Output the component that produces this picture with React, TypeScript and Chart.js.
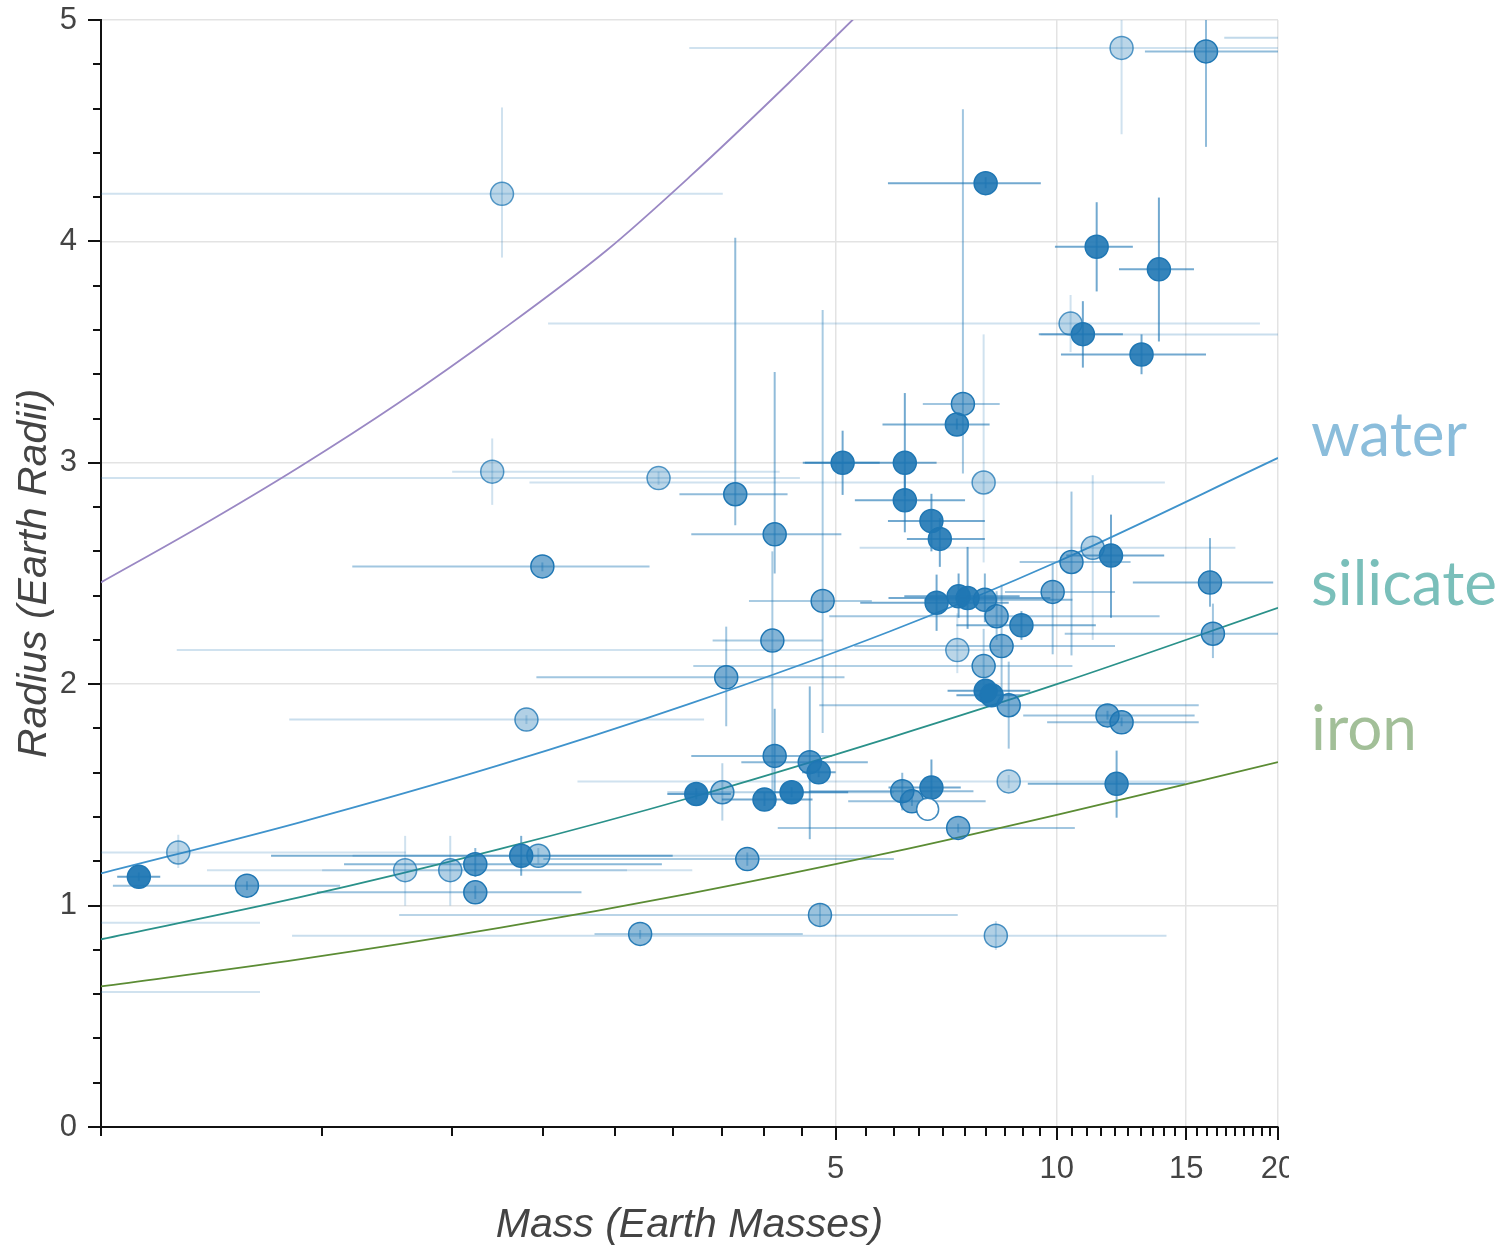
import React, { useEffect, useRef } from "react";
import { Chart, registerables } from "chart.js";

Chart.register(...registerables);

// ---- planets (mass in Earth masses, radius in Earth radii) ----
const planetMass = [
  0.563, 0.637, 0.79, 1.297, 1.494, 1.616, 1.616, 1.866, 1.969, 3.79,
  2.709, 8.26, 4.76, 3.23, 3.505, 4.0, 4.355, 4.13, 4.61, 4.74,
  3.548, 4.1, 4.8, 4.13, 2.87, 1.704, 1.994, 1.897, 1.757, 3.65,
  5.11, 12.25, 15.96, 8.0, 7.45, 7.31, 11.33, 13.77, 10.44, 10.85,
  13.04, 6.21, 6.21, 6.75, 6.93, 7.95, 10.47, 11.19, 11.85, 16.16,
  16.31, 6.86, 7.35, 7.56, 7.98, 8.28, 8.95, 8.41, 9.87, 7.32,
  7.95, 8.0, 8.15, 8.6, 11.72, 12.25, 12.06, 8.6, 6.75, 6.16,
  6.35, 7.34, 0.42, 0.42, 24, 25,
];
const planetRadius = [
  1.13, 1.24, 1.09, 1.16, 1.16, 1.187, 1.06, 1.225, 1.225, 1.21,
  0.872, 0.864, 0.958, 1.504, 1.512, 1.479, 1.512, 1.676, 1.648, 1.602,
  2.031, 2.197, 2.376, 2.677, 2.931, 2.96, 2.532, 1.84, 4.215, 2.858,
  3.0, 4.874, 4.858, 4.263, 3.266, 3.173, 3.976, 3.874, 3.629, 3.581,
  3.489, 3.0, 2.831, 2.737, 2.656, 2.911, 2.552, 2.616, 2.581, 2.459,
  2.228, 2.368, 2.397, 2.389, 2.381, 2.307, 2.266, 2.172, 2.417, 2.154,
  2.082, 1.97, 1.95, 1.905, 1.859, 1.828, 1.55, 1.561, 1.533, 1.517,
  1.471, 1.351, 0.922, 0.61, 4.92, 3.58,
];
const massLow = [
  0.526, 0.45, 0.519, 0.697, 1.0, 1.071, 0.984, 0.852, 1.1, 2.0,
  2.348, 0.91, 1.273, 2.95, 2.95, 3.5, 3.9, 3.18, 3.72, 4.5,
  1.957, 3.4, 3.81, 3.18, 0.45, 1.503, 1.099, 0.902, 0.45, 3.064,
  4.51, 3.16, 13.18, 5.89, 6.57, 5.79, 9.94, 12.15, 2.03, 9.45,
  10.13, 4.54, 5.31, 5.89, 6.25, 1.915, 8.9, 5.39, 10.3, 12.69,
  10.25, 5.4, 6.2, 5.9, 6.6, 4.9, 7.3, 5.3, 8.5, 0.634,
  3.2, 7.1, 7.3, 4.75, 9.0, 9.7, 9.13, 2.226, 5.9, 4.6,
  5.2, 4.17, 0.3, 0.3, 16.9, 9.5,
];
const massHigh = [
  0.602, 1.3, 1.058, 3.19, 2.6, 2.9, 2.254, 3.0, 5.6, 6.0,
  4.51, 14.1, 7.33, 3.6, 6.0, 4.65, 5.2, 4.94, 5.53, 5.0,
  5.14, 4.8, 5.6, 5.09, 4.47, 4.195, 2.79, 3.31, 3.51, 4.3,
  5.74, 22, 22, 9.51, 8.36, 8.1, 12.69, 15.37, 18.9, 12.3,
  15.96, 6.86, 7.5, 7.98, 7.98, 14.03, 12.6, 17.5, 14.0, 19.7,
  22, 8.6, 8.9, 9.8, 10.5, 13.8, 11.3, 12.0, 12.0, 8.36,
  10.5, 9.2, 9.0, 15.6, 15.4, 15.6, 14.94, 15.66, 7.4, 7.7,
  8.0, 10.58, 0.823, 0.823, 30, 30,
];
const radiusLow = [
  1.11, 1.17, 1.07, 1.0, 1.0, 1.13, 1.03, 1.135, 1.19, 1.18,
  0.85, 0.8, 0.91, 1.48, 1.384, 1.45, 1.49, 1.45, 1.3, 1.58,
  1.81, 1.5, 1.78, 2.5, 2.9, 2.81, 2.51, 1.82, 3.927, 2.718,
  2.855, 4.484, 4.427, 4.24, 2.952, 3.15, 3.774, 3.548, 3.5, 3.43,
  3.4, 2.85, 2.686, 2.6, 2.53, 2.55, 2.13, 2.2, 2.3, 2.35,
  2.118, 2.241, 2.3, 2.25, 2.28, 2.2, 2.2, 1.95, 2.135, 2.05,
  1.98, 1.94, 1.93, 1.709, 1.84, 1.81, 1.397, 1.53, 1.45, 1.43,
  1.45, 1.33, 0.92, 0.6, 4.9, 3.57,
];
const radiusHigh = [
  1.15, 1.32, 1.11, 1.315, 1.315, 1.26, 1.09, 1.315, 1.26, 1.24,
  0.89, 0.93, 1.01, 1.53, 1.643, 1.51, 1.535, 1.889, 1.99, 1.62,
  2.26, 2.6, 3.69, 3.41, 2.96, 3.11, 2.55, 1.86, 4.605, 4.016,
  3.145, 5.1, 5.1, 4.29, 4.597, 3.2, 4.177, 4.198, 3.758, 3.73,
  3.58, 3.315, 2.95, 2.86, 2.75, 3.58, 2.87, 2.944, 2.766, 2.66,
  2.364, 2.495, 2.5, 2.62, 2.5, 2.42, 2.33, 2.45, 2.545, 2.32,
  2.25, 2.0, 1.97, 2.102, 1.88, 1.85, 1.7, 1.59, 1.66, 1.6,
  1.49, 1.37, 0.93, 0.62, 4.94, 3.59,
];
const planetShade = [
  0.95, 0.3, 0.65, 0.3, 0.35, 0.75, 0.65, 0.85, 0.4, 0.55,
  0.5, 0.35, 0.45, 0.95, 0.45, 0.9, 0.95, 0.75, 0.75, 0.9,
  0.6, 0.55, 0.55, 0.7, 0.3, 0.3, 0.6, 0.35, 0.3, 0.7,
  0.9, 0.3, 0.7, 0.9, 0.6, 0.85, 0.9, 0.9, 0.3, 0.9,
  0.9, 0.9, 0.9, 0.9, 0.9, 0.3, 0.6, 0.35, 0.9, 0.75,
  0.6, 0.9, 0.9, 0.9, 0.75, 0.6, 0.85, 0.6, 0.6, 0.3,
  0.5, 0.95, 0.95, 0.6, 0.65, 0.65, 0.85, 0.3, 0.9, 0.7,
  0.65, 0.6, 0.3, 0.3, 0.4, 0.35,
];

const hollowMass = [6.67];
const hollowRadius = [1.435];

// ---- composition curves ----
const hydrogenMass = [0.5, 0.68, 0.93, 1.27, 1.74, 2.44, 3.16, 4.33, 5.27, 6.0];
const hydrogenRadius = [2.46, 2.71, 2.98, 3.27, 3.59, 3.96, 4.29, 4.72, 5.0, 5.18];
const waterMass = [0.5, 0.93, 1.742, 3.16, 5.92, 10, 20];
const waterRadius = [1.145, 1.375, 1.634, 1.911, 2.238, 2.552, 3.022];
const silicateMass = [0.5, 0.93, 1.742, 3.23, 5.92, 10, 20];
const silicateRadius = [0.848, 1.037, 1.255, 1.495, 1.758, 2.0, 2.345];
const ironMass = [0.5, 0.93, 1.742, 3.16, 5.92, 10, 20];
const ironRadius = [0.635, 0.757, 0.899, 1.054, 1.239, 1.41, 1.648];

// ---- axes ----
const massTickLabels = [5, 10, 15, 20];
const massMinorStep = 0.5;
const radiusTickLabels = [0, 1, 2, 3, 4, 5];
const radiusMinorStep = 0.2;

const curveLabels = ["water", "silicate", "iron"];
const curveLabelColors = ["#8bbddb", "#7abfba", "#a2bf98"];

const BLUE = "31,119,180";
const isMajorMass = (v: number) => massTickLabels.some((t) => Math.abs(t - v) < 1e-6);
const isMajorRadius = (v: number) => Math.abs(v - Math.round(v)) < 1e-6;

const errorBarPlugin = {
  id: "errorBars",
  beforeDatasetsDraw(chart: any) {
    const { ctx, chartArea, scales } = chart;
    const x = scales.x;
    const y = scales.y;
    ctx.save();
    ctx.beginPath();
    ctx.rect(chartArea.left, chartArea.top, chartArea.right - chartArea.left, chartArea.bottom - chartArea.top);
    ctx.clip();
    ctx.lineWidth = 2;
    planetMass.forEach((m, i) => {
      const a = planetShade[i] * 0.7;
      ctx.strokeStyle = `rgba(${BLUE},${a})`;
      const px = x.getPixelForValue(m);
      const py = y.getPixelForValue(planetRadius[i]);
      ctx.beginPath();
      ctx.moveTo(x.getPixelForValue(massLow[i]), py);
      ctx.lineTo(x.getPixelForValue(massHigh[i]), py);
      ctx.stroke();
      ctx.beginPath();
      ctx.moveTo(px, y.getPixelForValue(radiusLow[i]));
      ctx.lineTo(px, y.getPixelForValue(radiusHigh[i]));
      ctx.stroke();
    });
    ctx.restore();
  },
};

const tickMarkPlugin = {
  id: "tickMarks",
  afterDraw(chart: any) {
    const { ctx, chartArea, scales } = chart;
    const x = scales.x;
    const y = scales.y;
    ctx.save();
    ctx.strokeStyle = "#111";
    ctx.lineWidth = 2;
    x.ticks.forEach((t: any) => {
      const px = Math.round(x.getPixelForValue(t.value));
      const len = isMajorMass(t.value) ? 13 : 9;
      ctx.beginPath();
      ctx.moveTo(px, chartArea.bottom);
      ctx.lineTo(px, chartArea.bottom + len);
      ctx.stroke();
    });
    y.ticks.forEach((t: any) => {
      const py = Math.round(y.getPixelForValue(t.value));
      const len = isMajorRadius(t.value) ? 13 : 8;
      ctx.beginPath();
      ctx.moveTo(chartArea.left, py);
      ctx.lineTo(chartArea.left - len, py);
      ctx.stroke();
    });
    // the original picture is cropped just after the last mass label
    ctx.fillStyle = "#ffffff";
    ctx.fillRect(chartArea.right + 11, chartArea.bottom + 15, 300, 80);

    // curve names at the right
    ctx.font = "62px Lato, 'Open Sans', sans-serif";
    ctx.textAlign = "left";
    ctx.textBaseline = "alphabetic";
    const baselines = [456, 605, 750];
    curveLabels.forEach((label, i) => {
      ctx.fillStyle = curveLabelColors[i];
      ctx.fillText(label, chartArea.right + 33, baselines[i]);
    });
    ctx.restore();
  },
};

export default function App() {
  const ref = useRef<HTMLCanvasElement>(null);

  useEffect(() => {
    const canvas = ref.current;
    if (!canvas) return;
    const xy = (xs: number[], ys: number[]) => xs.map((v, i) => ({ x: v, y: ys[i] }));
    const curve = (xs: number[], ys: number[], color: string) => ({
      type: "line" as const,
      data: xy(xs, ys),
      borderColor: color,
      borderWidth: 1.8,
      pointRadius: 0,
      fill: false,
      showLine: true,
      cubicInterpolationMode: "monotone" as const,
    });

    const tickFont = { family: "'Liberation Sans', Arial, Helvetica, sans-serif", size: 31 };
    const titleFont = { family: "'Liberation Sans', Arial, Helvetica, sans-serif", size: 41, style: "italic" as const };

    const chart = new Chart(canvas, {
      type: "scatter",
      data: {
        datasets: [
          {
            type: "scatter",
            data: xy(hollowMass, hollowRadius),
            pointRadius: 11,
            pointBackgroundColor: "#ffffff",
            pointBorderColor: `rgba(${BLUE},0.85)`,
            pointBorderWidth: 1.5,
          },
          {
            type: "scatter",
            data: xy(planetMass, planetRadius),
            pointRadius: 11.5,
            pointBackgroundColor: planetShade.map((a) => `rgba(${BLUE},${a})`),
            pointBorderColor: planetShade.map((a) => `rgba(${BLUE},${Math.min(1, a + 0.45)})`),
            pointBorderWidth: 1.5,
          },
          curve(hydrogenMass, hydrogenRadius, "#9a88c4"),
          curve(waterMass, waterRadius, "#3f93cc"),
          curve(silicateMass, silicateRadius, "#2a918a"),
          curve(ironMass, ironRadius, "#5b8c34"),
        ] as any,
      },
      options: {
        responsive: false,
        animation: false,
        events: [],
        layout: { padding: { top: 20, right: 223, left: 0, bottom: 0 } },
        plugins: { legend: { display: false }, tooltip: { enabled: false } },
        scales: {
          x: {
            type: "logarithmic",
            min: 0.5,
            max: 20,
            afterBuildTicks: (scale: any) => {
              const ticks: any[] = [];
              for (let v = 0.5; v <= 20 + 1e-9; v += massMinorStep) {
                ticks.push({ value: Math.round(v * 10) / 10, major: isMajorMass(v) });
              }
              scale.ticks = ticks;
            },
            afterFit: (scale: any) => {
              scale.height = 123;
              scale.paddingLeft = 0;
              scale.paddingRight = 0;
            },
            grid: {
              drawTicks: false,
              lineWidth: 1.5,
              color: (c: any) => (c.tick && isMajorMass(c.tick.value) ? "#e3e3e3" : "rgba(0,0,0,0)"),
            },
            border: { display: true, color: "#111", width: 2 },
            ticks: {
              autoSkip: false,
              maxRotation: 0,
              padding: 24,
              color: "#444",
              font: tickFont,
              callback: (v: any) => (isMajorMass(Number(v)) ? String(Number(v)) : ""),
            },
            title: {
              display: true,
              text: "Mass (Earth Masses)",
              color: "#444",
              font: titleFont,
              padding: { top: 0, bottom: 0 },
            },
          },
          y: {
            type: "linear",
            min: 0,
            max: 5,
            afterFit: (scale: any) => {
              scale.width = 101;
              scale.paddingTop = 0;
              scale.paddingBottom = 0;
            },
            grid: {
              drawTicks: false,
              lineWidth: 1.5,
              color: (c: any) => (c.tick && isMajorRadius(c.tick.value) ? "#e3e3e3" : "rgba(0,0,0,0)"),
            },
            border: { display: true, color: "#111", width: 2 },
            ticks: {
              stepSize: radiusMinorStep,
              autoSkip: false,
              padding: 24,
              color: "#444",
              font: tickFont,
              callback: (v: any) => {
                const n = Number(v);
                return isMajorRadius(n) && radiusTickLabels.includes(Math.round(n)) ? String(Math.round(n)) : "";
              },
            },
            title: {
              display: true,
              text: "Radius (Earth Radii)",
              color: "#444",
              font: titleFont,
              padding: { top: 10, bottom: 0 },
            },
          },
        },
      } as any,
      plugins: [errorBarPlugin, tickMarkPlugin],
    });
    return () => chart.destroy();
  }, []);

  return (
    <div style={{ position: "absolute", left: 0, top: 0, width: 1501, height: 1250, background: "#fff" }}>
      <canvas ref={ref} width={1501} height={1250} style={{ width: 1501, height: 1250, display: "block" }} />
    </div>
  );
}
